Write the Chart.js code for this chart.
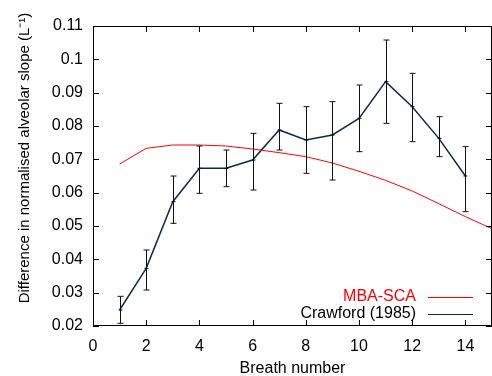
<!DOCTYPE html>
<html lang="en">
<head>
<meta charset="UTF-8">
<title>Alveolar slope difference</title>
<style>
body { margin:0; padding:0; background:#fff; }
#wrap { width:492px; height:376px; position:relative; }
</style>
</head>
<body>
<div id="wrap"><canvas id="chart"></canvas></div>

<script src="https://cdn.jsdelivr.net/npm/chart.js"></script>
<script>
// breath numbers
const breaths = [1,2,3,4,5,6,7,8,9,10,11,12,13,14];
// Crawford (1985) measured values with error bar ends
const crawford = [0.0248,0.0373,0.0573,0.0673,0.0673,0.0698,0.0788,0.0758,0.0773,0.0823,0.0933,0.0858,0.0763,0.0650];
const crawfordHi = [0.0289,0.0428,0.0650,0.0740,0.0728,0.0778,0.0868,0.0858,0.0873,0.0923,0.1058,0.0958,0.0828,0.0738];
const crawfordLo = [0.0208,0.0308,0.0508,0.0598,0.0618,0.0608,0.0728,0.0658,0.0638,0.0723,0.0808,0.0753,0.0708,0.0543];
// MBA-SCA model curve
const modelX = [1,2,3,4,5,6,7,8,9,10,11,12,13,14,15];
const modelY = [0.0686,0.0733,0.0743,0.0743,0.0740,0.0731,0.0720,0.0708,0.0689,0.0664,0.0637,0.0605,0.0567,0.0528,0.0492];
// axis ticks
const xTicks = [0,2,4,6,8,10,12,14];
const yTicks = [0.02,0.03,0.04,0.05,0.06,0.07,0.08,0.09,0.1,0.11];

const FONT = 'Liberation Sans, Arial, sans-serif';

// frame, inside ticks (mirrored), error bars, legend and axis titles
const decor = {
  id: 'decor',
  afterDatasetsDraw(chart) {
    const c = chart.ctx, a = chart.chartArea;
    const xs = chart.scales.x, ys = chart.scales.y;
    c.save();
    // error bars
    c.strokeStyle = '#111';
    c.lineWidth = 1;
    breaths.forEach((b, i) => {
      const px = Math.round(xs.getPixelForValue(b)) + 0.5;
      const hi = ys.getPixelForValue(crawfordHi[i]);
      const lo = ys.getPixelForValue(crawfordLo[i]);
      const mid = ys.getPixelForValue(crawford[i]);
      c.beginPath();
      c.moveTo(px, hi); c.lineTo(px, lo);
      c.moveTo(px - 3, hi); c.lineTo(px + 3, hi);
      c.moveTo(px - 3, lo); c.lineTo(px + 3, lo);
      c.moveTo(px - 2, mid); c.lineTo(px + 2, mid);
      c.stroke();
    });
    // frame
    c.strokeStyle = '#000';
    c.beginPath();
    c.rect(a.left + 0.5, a.top + 0.5, a.right - a.left - 1, a.bottom - a.top - 1);
    c.stroke();
    // ticks
    c.beginPath();
    xTicks.forEach(v => {
      const px = Math.round(xs.getPixelForValue(v)) + 0.5;
      c.moveTo(px, a.bottom); c.lineTo(px, a.bottom - 6);
      c.moveTo(px, a.top); c.lineTo(px, a.top + 6);
    });
    yTicks.forEach(v => {
      const py = Math.round(ys.getPixelForValue(v)) + 0.5;
      c.moveTo(a.left, py); c.lineTo(a.left + 6, py);
      c.moveTo(a.right, py); c.lineTo(a.right - 6, py);
    });
    c.stroke();
    // legend
    c.font = '16px ' + FONT;
    c.textAlign = 'right';
    c.textBaseline = 'middle';
    const items = [
      { label: 'MBA-SCA', color: '#ff0000', text: '#ff0000', y: 297 },
      { label: 'Crawford (1985)', color: '#0d2b4e', text: '#000', y: 314 }
    ];
    items.forEach(it => {
      c.fillStyle = it.text;
      c.fillText(it.label, 416, it.y);
      c.strokeStyle = it.color;
      c.beginPath();
      c.moveTo(428, it.y + 0.5); c.lineTo(473, it.y + 0.5);
      c.stroke();
    });
    // axis titles
    c.fillStyle = '#000';
    c.textAlign = 'center';
    c.fillText('Breath number', (a.left + a.right) / 2, 369);
    c.font = '15px ' + FONT;
    c.translate(25, 158);
    c.rotate(-Math.PI / 2);
    c.fillText('Difference in normalised alveolar slope (L\u207B\u00B9)', 0, 0);
    c.restore();
  }
};

new Chart(document.getElementById('chart'), {
  type: 'scatter',
  data: {
    datasets: [
      {
        label: 'MBA-SCA',
        data: modelX.map((x, i) => ({ x: x, y: modelY[i] })),
        showLine: true,
        borderColor: '#ff0000',
        borderWidth: 1,
        pointRadius: 0,
        tension: 0
      },
      {
        label: 'Crawford (1985)',
        data: breaths.map((x, i) => ({ x: x, y: crawford[i] })),
        showLine: true,
        borderColor: '#0d2b4e',
        borderWidth: 1.5,
        pointRadius: 0,
        tension: 0
      }
    ]
  },
  options: {
    responsive: true,
    maintainAspectRatio: false,
    animation: false,
    layout: { padding: { top: 26, right: 0, left: 0, bottom: 0 } },
    plugins: { legend: { display: false }, tooltip: { enabled: false } },
    scales: {
      x: {
        type: 'linear', min: 0, max: 15,
        grid: { display: false, drawTicks: false },
        border: { display: false },
        afterBuildTicks: s => { s.ticks = xTicks.map(v => ({ value: v })); },
        afterFit: s => { s.height = 50; },
        ticks: { color: '#000', padding: 11, font: { family: FONT, size: 16 }, maxRotation: 0 }
      },
      y: {
        type: 'linear', min: 0.02, max: 0.11,
        grid: { display: false, drawTicks: false },
        border: { display: false },
        afterBuildTicks: s => { s.ticks = yTicks.map(v => ({ value: v })); },
        afterFit: s => { s.width = 93; },
        ticks: {
          color: '#000', padding: 10, font: { family: FONT, size: 16 },
          callback: v => String(+v.toFixed(2))
        }
      }
    }
  },
  plugins: [decor]
});
</script>
</body>
</html>
